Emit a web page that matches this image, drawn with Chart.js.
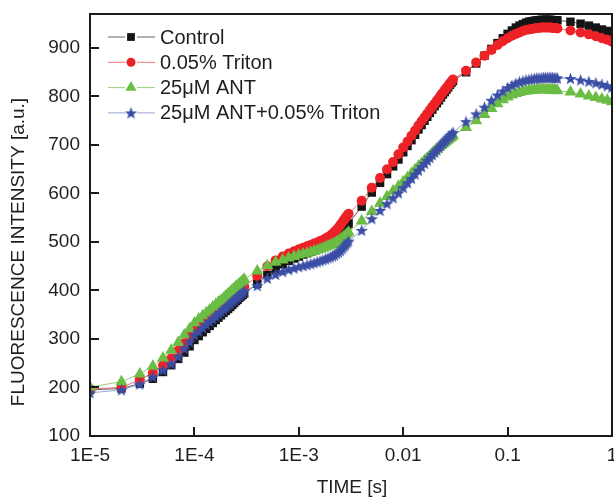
<!DOCTYPE html>
<html>
<head>
<meta charset="utf-8">
<script src="https://cdn.jsdelivr.net/npm/chart.js@4.4.1/dist/chart.umd.min.js"></script>
<style>
  html, body { margin: 0; padding: 0; overflow: hidden; background: #fff; }
  #wrap { width: 640px; height: 497px; position: relative; }
</style>
</head>
<body>
<div id="wrap"><canvas id="chart"></canvas></div>
<script>
// Fluorescence induction curves, log time axis

const times = [
  1e-5, 2e-5, 3e-5, 4e-5, 5e-5, 6e-5, 7e-5, 8e-5, 9e-5, 1e-4,
  1.1e-4, 1.2e-4, 1.3e-4, 1.4e-4, 1.5e-4, 1.6e-4, 1.7e-4, 1.8e-4, 1.9e-4, 2e-4,
  2.1e-4, 2.2e-4, 2.3e-4, 2.4e-4, 2.5e-4, 2.6e-4, 2.7e-4, 2.8e-4, 2.9e-4, 3e-4,
  4e-4, 5e-4, 6e-4, 7e-4, 8e-4, 9e-4, 1e-3,
  1.1e-3, 1.2e-3, 1.3e-3, 1.4e-3, 1.5e-3, 1.6e-3, 1.7e-3, 1.8e-3, 1.9e-3, 2e-3,
  2.1e-3, 2.2e-3, 2.3e-3, 2.4e-3, 2.5e-3, 2.6e-3, 2.7e-3, 2.8e-3, 2.9e-3, 3e-3,
  4e-3, 5e-3, 6e-3, 7e-3, 8e-3, 9e-3, 0.01,
  0.011, 0.012, 0.013, 0.014, 0.015, 0.016, 0.017, 0.018, 0.019, 0.02,
  0.021, 0.022, 0.023, 0.024, 0.025, 0.026, 0.027, 0.028, 0.029, 0.03,
  0.04, 0.05, 0.06, 0.07, 0.08, 0.09, 0.1,
  0.11, 0.12, 0.13, 0.14, 0.15, 0.16, 0.17, 0.18, 0.19, 0.2,
  0.21, 0.22, 0.23, 0.24, 0.25, 0.26, 0.27, 0.28, 0.29, 0.3,
  0.4, 0.5, 0.6, 0.7, 0.8, 0.9, 1
];

const control = [
  195, 198, 208, 218, 232, 246, 259, 272, 285, 298,
  306, 314, 321, 327, 333, 339, 344, 349, 354, 358,
  362, 366, 370, 374, 378, 381, 385, 388, 391, 394,
  414, 432, 445, 454, 461, 466, 470,
  474, 477, 480, 483, 486, 489, 492, 495, 498, 501,
  504, 507, 511, 514, 518, 522, 526, 530, 534, 538,
  573, 602, 622, 640, 656, 670, 685,
  698, 710, 721, 732, 741, 750, 758, 766, 773, 780,
  786, 792, 798, 804, 809, 814, 819, 824, 828, 832,
  850, 868, 884, 898, 910, 920, 929,
  936, 942, 946, 949, 952, 954, 955, 956, 957, 957,
  958, 958, 958, 958, 958, 958, 957, 957, 957, 957,
  954, 950, 946, 942, 938, 935, 932
];

const triton = [
  197, 200, 216, 230, 246, 260, 276, 291, 305, 318,
  326, 333, 339, 345, 351, 356, 361, 366, 370, 374,
  378, 382, 386, 389, 393, 396, 399, 402, 405, 408,
  430, 450, 462, 470, 476, 481, 485,
  488, 491, 494, 497, 499, 502, 504, 507, 510, 513,
  517, 521, 525, 530, 535, 540, 545, 550, 554, 558,
  585, 612, 632, 650, 665, 681, 695,
  707, 719, 730, 740, 749, 757, 765, 772, 779, 785,
  791, 797, 803, 808, 813, 818, 822, 827, 831, 835,
  853, 870, 884, 896, 906, 914, 920,
  925, 929, 932, 935, 937, 938, 939, 940, 941, 941,
  942, 942, 942, 942, 942, 942, 941, 941, 941, 940,
  936, 932, 928, 924, 920, 917, 913
];

const ant = [
  201, 212, 228, 244, 261, 277, 293, 308, 321, 333,
  341, 348, 354, 360, 366, 371, 376, 380, 384, 389,
  393, 397, 401, 404, 408, 411, 414, 417, 420, 423,
  440, 451, 458, 463, 467, 470, 473,
  475, 477, 479, 481, 483, 485, 487, 489, 491, 493,
  495, 497, 500, 502, 505, 508, 511, 514, 517, 520,
  543, 563, 580, 594, 605, 615, 624,
  633, 641, 649, 656, 662, 668, 673, 678, 683, 687,
  691, 695, 699, 702, 705, 708, 711, 714, 716, 719,
  736, 750, 763, 775, 785, 793, 799,
  803, 806, 808, 810, 811, 812, 813, 813, 814, 814,
  814, 814, 814, 814, 814, 813, 813, 813, 813, 812,
  809, 805, 801, 798, 795, 792, 789
];

const antTriton = [
  189, 195, 207, 222, 236, 249, 264, 280, 294, 308,
  316, 323, 330, 336, 341, 347, 352, 356, 361, 365,
  369, 373, 377, 380, 384, 387, 390, 393, 396, 399,
  410, 425, 433, 439, 443, 446, 449,
  451, 453, 455, 457, 459, 461, 463, 465, 467, 469,
  471, 473, 476, 479, 482, 486, 490, 494, 498, 502,
  524, 548, 565, 579, 591, 601, 612,
  622, 631, 640, 648, 655, 662, 668, 674, 680, 685,
  690, 695, 700, 704, 708, 712, 716, 719, 722, 726,
  748, 764, 778, 792, 803, 811, 818,
  823, 827, 830, 832, 834, 835, 836, 837, 838, 838,
  838, 839, 839, 839, 839, 839, 839, 838, 838, 838,
  837, 834, 831, 828, 825, 822, 819
];

const seriesNames = ['Control', '0.05% Triton', '25\u03bcM ANT', '25\u03bcM ANT+0.05% Triton'];
const xTickValues = [1e-5, 1e-4, 1e-3, 0.01, 0.1, 1];
const xTickLabels = ['1E-5', '1E-4', '1E-3', '0.01', '0.1', '1'];
const yTickValues = [100, 200, 300, 400, 500, 600, 700, 800, 900];

const FONT = "'Liberation Sans', Arial, sans-serif";
const TEXT = '#1e1e1e';

// filled five point star for the last series
function makeStar(color, size) {
    const c = document.createElement('canvas');
    c.width = size; c.height = size;
    const g = c.getContext('2d');
    const cx = size / 2, cy = size / 2 + 0.6;
    const ro = size / 2, ri = ro * 0.42;
    g.beginPath();
    for (let i = 0; i < 10; i++) {
        const r = i % 2 === 0 ? ro : ri;
        const a = -Math.PI / 2 + i * Math.PI / 5;
        const px = cx + r * Math.cos(a), py = cy + r * Math.sin(a);
        if (i === 0) g.moveTo(px, py); else g.lineTo(px, py);
    }
    g.closePath();
    g.fillStyle = color;
    g.fill();
    return c;
}

const star = makeStar('#3b4ea6', 13);

const styles = [
    { point: '#151515', line: 'rgba(60,60,60,0.8)', pointStyle: 'rect', radius: 6, order: 4 },
    { point: '#ec2226', line: 'rgba(240,80,80,0.8)', pointStyle: 'circle', radius: 5, order: 3 },
    { point: '#6bbd45', line: 'rgba(120,200,90,0.8)', pointStyle: 'triangle', radius: 7, order: 2 },
    { point: '#3b4ea6', line: 'rgba(110,125,200,0.7)', pointStyle: star, radius: 6, order: 1 }
];

const allValues = [control, triton, ant, antTriton];

const datasets = allValues.map((vals, i) => ({
    label: seriesNames[i],
    data: times.map((t, j) => ({ x: t, y: vals[j] })),
    borderColor: styles[i].line,
    borderWidth: 1,
    backgroundColor: styles[i].point,
    pointBackgroundColor: styles[i].point,
    pointBorderColor: styles[i].point,
    pointBorderWidth: 0,
    pointStyle: styles[i].pointStyle,
    pointRadius: styles[i].radius,
    pointHoverRadius: styles[i].radius,
    order: styles[i].order,
    tension: 0
}));

// frame, inward ticks, axis titles and the legend
const decor = {
    id: 'decor',
    afterDraw(chart) {
        const { ctx, chartArea: a, scales: { x, y } } = chart;
        ctx.save();
        ctx.strokeStyle = '#1a1a1a';
        ctx.lineWidth = 2;
        ctx.strokeRect(a.left, a.top, a.right - a.left, a.bottom - a.top);

        ctx.beginPath();
        xTickValues.forEach(v => {
            const px = Math.round(x.getPixelForValue(v));
            ctx.moveTo(px, a.bottom);
            ctx.lineTo(px, a.bottom - 9);
        });
        yTickValues.forEach(v => {
            const py = Math.round(y.getPixelForValue(v));
            ctx.moveTo(a.left, py);
            ctx.lineTo(a.left + 9, py);
        });
        ctx.stroke();

        ctx.fillStyle = TEXT;
        ctx.font = '19px ' + FONT;
        ctx.textAlign = 'center';
        ctx.textBaseline = 'middle';
        ctx.fillText('TIME [s]', 352, 488);

        ctx.save();
        ctx.translate(19, 252);
        ctx.rotate(-Math.PI / 2);
        ctx.fillText('FLUORESCENCE INTENSITY [a.u.]', 0, 0);
        ctx.restore();

        // legend
        ctx.font = '20px ' + FONT;
        ctx.textAlign = 'left';
        seriesNames.forEach((name, i) => {
            const ly = 37 + i * 25.3;
            ctx.strokeStyle = styles[i].line;
            ctx.lineWidth = 1;
            ctx.beginPath();
            ctx.moveTo(108, ly); ctx.lineTo(125, ly);
            ctx.moveTo(137, ly); ctx.lineTo(155, ly);
            ctx.stroke();
            ctx.fillStyle = styles[i].point;
            Chart.helpers.drawPoint(ctx, {
                pointStyle: styles[i].pointStyle,
                radius: styles[i].radius - 0.5,
                rotation: 0,
                borderWidth: 0
            }, 131, ly);
            ctx.fillStyle = TEXT;
            ctx.fillText(name, 160, ly + 1);
        });
        ctx.restore();
    }
};

new Chart(document.getElementById('chart'), {
    type: 'line',
    data: { datasets: datasets },
    options: {
        responsive: true,
        maintainAspectRatio: false,
        animation: false,
        layout: { padding: { top: 14, right: 28, left: 0, bottom: 0 } },
        plugins: {
            legend: { display: false },
            tooltip: { enabled: false }
        },
        scales: {
            x: {
                type: 'logarithmic',
                min: 1e-5,
                max: 1,
                afterBuildTicks: axis => { axis.ticks = xTickValues.map(v => ({ value: v })); },
                afterFit: axis => {
                    axis.height = 61;
                    axis.paddingLeft = 0;
                    axis.paddingRight = 0;
                },
                grid: { display: false, drawTicks: false },
                border: { display: false },
                ticks: {
                    color: TEXT,
                    font: { family: FONT, size: 19 },
                    padding: 8,
                    maxRotation: 0,
                    autoSkip: false,
                    callback: (value, index) => xTickLabels[index]
                }
            },
            y: {
                type: 'linear',
                min: 100,
                max: 970,
                afterBuildTicks: axis => { axis.ticks = yTickValues.map(v => ({ value: v })); },
                afterFit: axis => {
                    axis.width = 90;
                    axis.paddingTop = 0;
                    axis.paddingBottom = 0;
                },
                grid: { display: false, drawTicks: false },
                border: { display: false },
                ticks: {
                    color: TEXT,
                    font: { family: FONT, size: 19 },
                    padding: 10,
                    callback: value => String(value)
                }
            }
        }
    },
    plugins: [decor]
});
</script>
</body>
</html>
